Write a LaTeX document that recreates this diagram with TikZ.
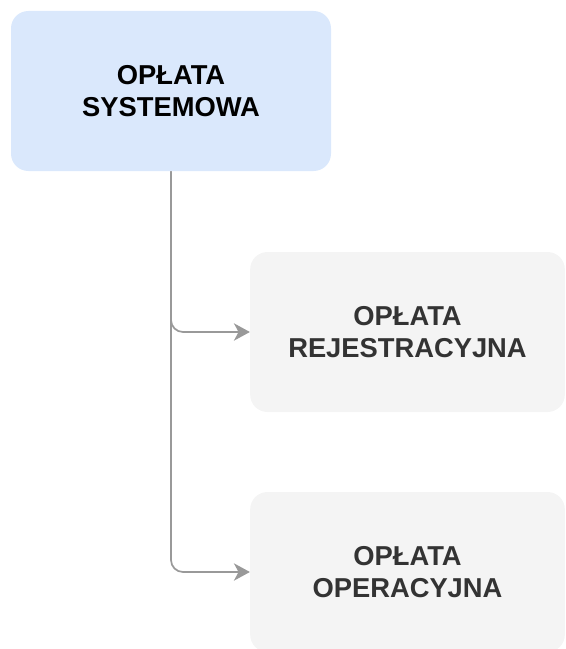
\documentclass[tikz,border=0pt]{standalone}
\usepackage{fontspec}
\setmainfont{Liberation Sans}
\usetikzlibrary{arrows.meta}
\definecolor{topfill}{HTML}{DAE8FC}
\definecolor{subfill}{HTML}{F4F4F4}
\definecolor{subtext}{HTML}{333333}
\definecolor{linkgray}{HTML}{999999}

\begin{document}
\begin{tikzpicture}[x=0.75pt, y=-0.75pt,
  topbox/.style={fill=topfill, rounded corners=13pt, minimum width=240pt,
    minimum height=120pt, align=center, text=black,
    font=\bfseries\fontsize{20.5}{23.5}\selectfont},
  subbox/.style={topbox, fill=subfill, text=subtext, minimum width=236pt},
  link/.style={draw=linkgray, line width=1.3pt, rounded corners=9pt,
    -{Stealth[length=12pt, width=13pt, inset=3.5pt]}}]

  \useasboundingbox (0,0) rectangle (566,649);

  % --- boxes ---
  \node[topbox] (sys) at (171,91) {OPŁATA\\SYSTEMOWA};
  \node[subbox] (rej) at (407.5,332) {OPŁATA\\REJESTRACYJNA};
  \node[subbox] (ope) at (407.5,572) {OPŁATA\\OPERACYJNA};

  % --- links ---
  \draw[link] (sys.south) |- (rej.west);
  \draw[link] (sys.south) |- (ope.west);

\end{tikzpicture}
\end{document}
